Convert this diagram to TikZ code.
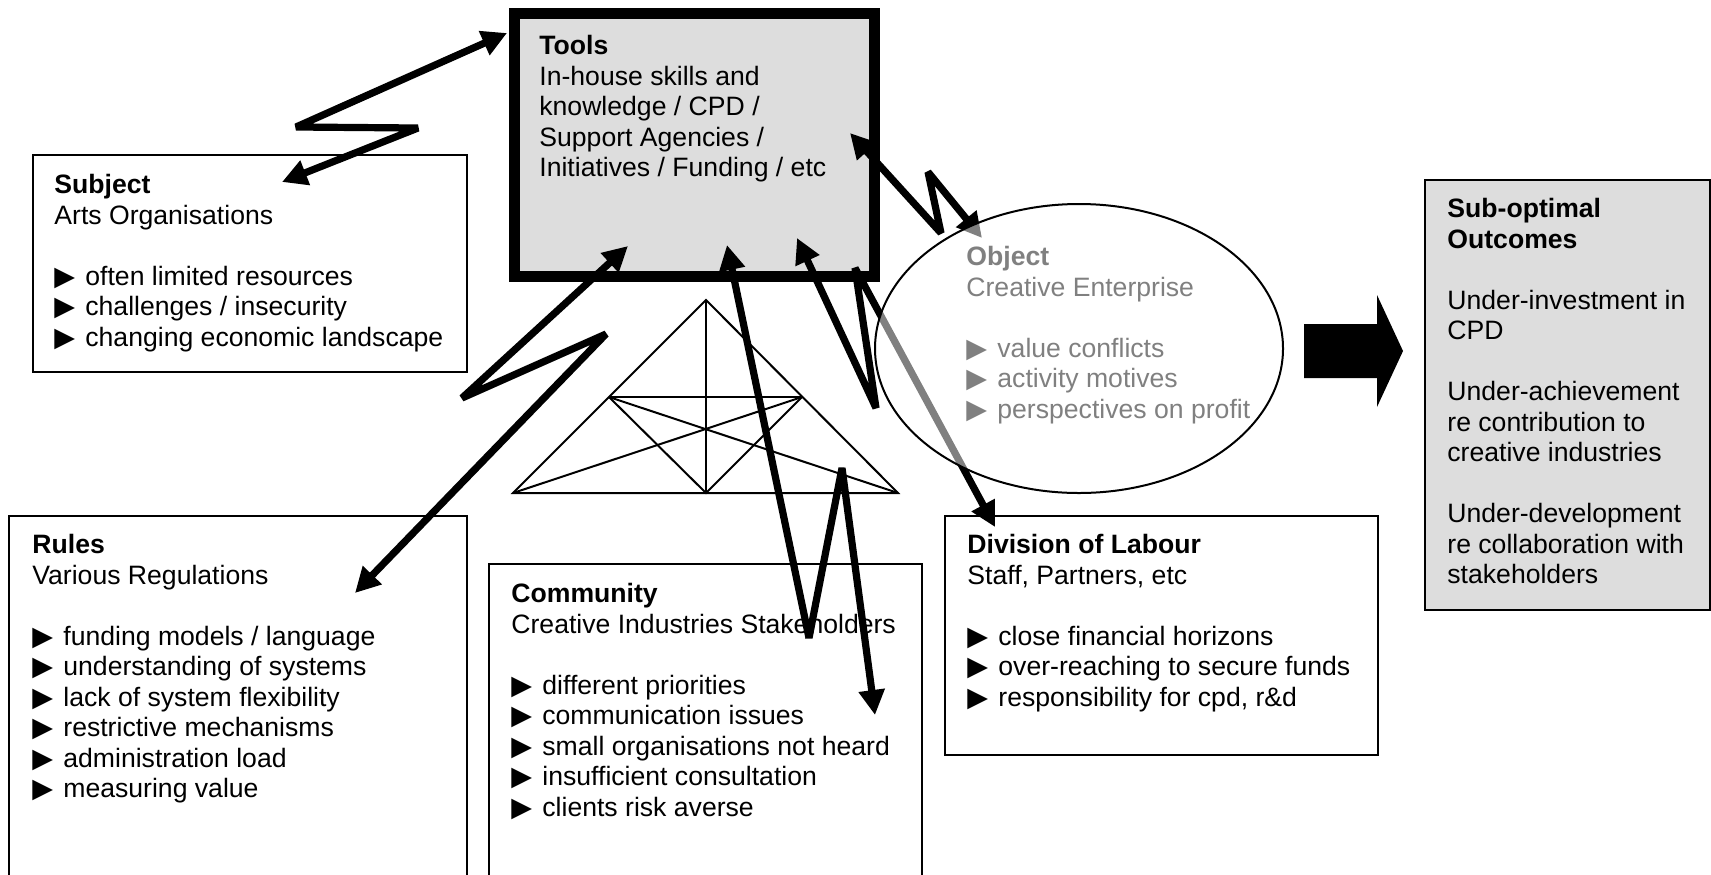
\documentclass[tikz,border=0pt]{standalone}
\usepackage{fontspec}
\setmainfont{Liberation Sans}
\newfontfamily\dvs{DejaVu Sans}
\usetikzlibrary{arrows.meta}
\definecolor{boxgray}{RGB}{221,221,221}
\definecolor{objgray}{RGB}{128,128,128}
\newcommand{\bul}{\makebox[15.5pt][l]{\dvs\fontsize{13.5pt}{15.25pt}\selectfont ▶}}
\begin{document}
\begin{tikzpicture}[x=0.5pt,y=-0.5pt,
  font=\fontsize{13.3pt}{15.25pt}\selectfont,
  thinbox/.style={draw=black,line width=1pt,fill=white},
  txt/.style={anchor=north west,inner sep=0pt,align=left},
  zz/.style={line width=3.6pt,line join=bevel,
     {Triangle[length=12.5pt,width=12.5pt]}-{Triangle[length=12.5pt,width=12.5pt]}},
  triline/.style={line width=1pt}]
\useasboundingbox (0,0) rectangle (1711,874);

% ---- boxes ----
\draw[thinbox] (33,155) rectangle (467,372);
\draw[thinbox] (9,880) -- (9,516) -- (467,516) -- (467,880);
\draw[thinbox] (489,880) -- (489,564) -- (922,564) -- (922,880);
\draw[thinbox] (945,516) rectangle (1378,755);
\draw[draw=black,line width=1pt,fill=boxgray] (1425,180) rectangle (1710,610);
\draw[draw=black,line width=5.5pt,fill=boxgray] (514,13.5) rectangle (874,276);

% ---- texts ----
\node[txt] (tools) at (539,35) {\textbf{Tools}\\In-house skills and\\knowledge / CPD /\\Support Agencies /\\Initiatives / Funding / etc};
\node[txt] (subject) at (54,174) {\textbf{Subject}\\Arts Organisations\\[15.25pt]\bul often limited resources\\\bul challenges / insecurity\\\bul changing economic landscape};
\node[txt] (rules) at (32,534) {\textbf{Rules}\\Various Regulations\\[15.25pt]\bul funding models / language\\\bul understanding of systems\\\bul lack of system flexibility\\\bul restrictive mechanisms\\\bul administration load\\\bul measuring value};
\node[txt] (community) at (511,583) {\textbf{Community}\\Creative Industries Stakeholders\\[15.25pt]\bul different priorities\\\bul communication issues\\\bul small organisations not heard\\\bul insufficient consultation\\\bul clients risk averse};
\node[txt] (division) at (967,534) {\textbf{Division of Labour}\\Staff, Partners, etc\\[15.25pt]\bul close financial horizons\\\bul over-reaching to secure funds\\\bul responsibility for cpd, r\&d};
\node[txt] (outcomes) at (1447,198) {\textbf{Sub-optimal}\\\textbf{Outcomes}\\[15.25pt]Under-investment in\\CPD\\[15.25pt]Under-achievement\\re contribution to\\creative industries\\[15.25pt]Under-development\\re collaboration with\\stakeholders};

% ---- triangle ----
\coordinate (apex) at (706,300);
\coordinate (bl) at (513,493);
\coordinate (br) at (898,493);
\coordinate (mb) at (706,493);
\coordinate (il) at (609,397);
\coordinate (ir) at (802,397);
\draw[triline] (bl) -- (apex) -- (br) -- cycle;
\draw[triline] (apex) -- (mb);
\draw[triline] (il) -- (ir);
\draw[triline] (il) -- (mb) -- (ir);
\draw[triline] (il) -- (br);
\draw[triline] (ir) -- (bl);

% ---- zigzag connectors ----
\coordinate (a1s) at (507,33);   \coordinate (a1e) at (282,182);
\coordinate (a2s) at (628,246);  \coordinate (a2e) at (355,593);
\coordinate (a3s) at (727,245);  \coordinate (a3e) at (875,715);
\coordinate (a4s) at (797,238);  \coordinate (a4e) at (995,527);
\coordinate (a5s) at (850,133);  \coordinate (a5e) at (982,238);

\draw[zz] (a1s) -- (296,127) -- (418,128) -- (a1e);
\draw[zz] (a2s) -- (462,398) -- (606,334) -- (a2e);
\draw[zz] (a3s) -- (809,638) -- (842,468) -- (a3e);
\draw[zz] (a4s) -- (876,408) -- (855,268) -- (a4e);
\draw[zz] (a5s) -- (941,233) -- (928,172) -- (a5e);

% ---- object ellipse (semi-transparent overlay) ----
\draw[line width=1pt,fill=white,fill opacity=0.5,draw opacity=1]
  (1079,348.5) ellipse [x radius=102pt,y radius=72.25pt];
\node[txt,text=objgray] (object) at (966,246) {\textbf{Object}\\Creative Enterprise\\[15.25pt]\bul value conflicts\\\bul activity motives\\\bul perspectives on profit};

% ---- big arrow ----
\fill (1304,324) -- (1377,324) -- (1377,295) -- (1403,351) -- (1377,407) -- (1377,378) -- (1304,378) -- cycle;
\end{tikzpicture}
\end{document}
